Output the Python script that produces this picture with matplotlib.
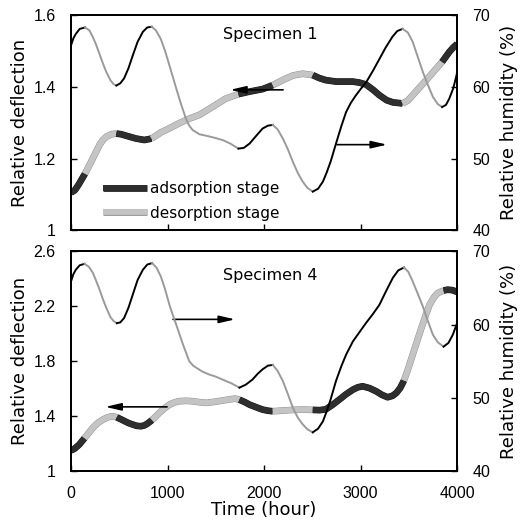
import numpy as np
import matplotlib
matplotlib.use("Agg")
import matplotlib.pyplot as plt
from matplotlib.lines import Line2D
import matplotlib.patheffects as pe

# ---------------- data ----------------
# Specimen 1 : relative humidity (%)
s1_rh_t = [0, 25, 50, 90, 145, 190, 225, 260, 295, 330, 365, 410, 440, 470, 510, 550, 595,
           640, 690, 745, 790, 835, 880, 930, 975, 1020, 1055, 1090, 1140, 1190, 1225, 1260,
           1330, 1400, 1490, 1570, 1650, 1735, 1790, 1850, 1920, 1985, 2040, 2090, 2140,
           2195, 2250, 2300, 2350, 2400, 2450, 2505, 2560, 2610, 2650, 2690, 2750, 2800,
           2850, 2900, 2950, 3000, 3060, 3130, 3195, 3260, 3330, 3380, 3435, 3490, 3540,
           3590, 3645, 3700, 3750, 3800, 3845, 3885, 3920, 3960, 3990, 4000]
s1_rh = [65.8, 66.8, 67.4, 68.1, 68.3, 67.9, 67.0, 65.9, 64.6, 63.3, 62.1, 60.9, 60.4, 60.2,
         60.5, 61.2, 62.6, 64.4, 66.3, 67.7, 68.3, 68.4, 67.9, 66.7, 65.0, 63.0, 61.4, 59.8,
         57.6, 55.6, 54.6, 54.0, 53.4, 53.2, 52.9, 52.6, 52.1, 51.4, 51.5, 52.1, 53.2, 54.2,
         54.6, 54.7, 54.1, 52.8, 51.2, 49.5, 48.0, 46.8, 45.9, 45.4, 45.8, 46.8, 48.1, 49.6,
         52.3, 54.5, 56.5, 57.8, 58.8, 59.7, 60.7, 62.3, 63.9, 65.5, 67.0, 67.8, 68.1, 67.6,
         66.3, 64.3, 62.1, 60.2, 58.6, 57.6, 57.2, 57.5, 58.4, 59.8, 61.4, 62.0]
# Specimen 1 : relative deflection
s1_df_t = [0, 40, 80, 145, 225, 295, 330, 365, 420, 470, 520, 570, 675, 760, 835, 930, 1030,
           1130, 1230, 1330, 1470, 1600, 1735, 1850, 1985, 2090, 2200, 2300, 2400, 2505,
           2570, 2640, 2745, 2830, 2920, 2990, 3055, 3130, 3195, 3270, 3335, 3435, 3490,
           3540, 3610, 3680, 3780, 3845, 3920, 3960, 4000]
s1_df = [1.105, 1.112, 1.128, 1.158, 1.200, 1.238, 1.252, 1.261, 1.268, 1.270, 1.268, 1.264,
         1.256, 1.252, 1.256, 1.273, 1.286, 1.300, 1.312, 1.322, 1.345, 1.367, 1.380, 1.387,
         1.394, 1.405, 1.420, 1.432, 1.437, 1.433, 1.425, 1.419, 1.415, 1.415, 1.415, 1.412,
         1.407, 1.392, 1.377, 1.363, 1.357, 1.354, 1.362, 1.377, 1.398, 1.419, 1.450, 1.470,
         1.498, 1.510, 1.520]
# Specimen 1 : stage changes (hours) - adsorption first
s1_breaks = [145, 470, 835, 1735, 2090, 2505, 3435, 3845]

# Specimen 4 : relative humidity (%)
s4_rh_t = [0, 25, 50, 90, 140, 185, 225, 260, 295, 330, 365, 410, 440, 475, 510, 550, 595,
           640, 690, 745, 790, 840, 885, 930, 975, 1020, 1055, 1090, 1160, 1225, 1265, 1300,
           1360, 1430, 1500, 1570, 1660, 1745, 1810, 1880, 1935, 1985, 2040, 2090, 2140,
           2195, 2250, 2300, 2350, 2400, 2450, 2505, 2560, 2610, 2650, 2690, 2745, 2800,
           2850, 2920, 2990, 3055, 3125, 3195, 3265, 3335, 3390, 3450, 3495, 3540, 3590,
           3645, 3700, 3750, 3800, 3860, 3910, 3955, 4000]
s4_rh = [65.9, 66.9, 67.5, 68.1, 68.3, 67.9, 67.1, 66.0, 64.8, 63.5, 62.3, 61.0, 60.5, 60.2,
         60.3, 60.9, 62.3, 64.1, 66.1, 67.5, 68.2, 68.4, 67.8, 66.6, 64.8, 62.7, 61.3, 60.0,
         57.3, 55.0, 54.4, 54.1, 53.6, 53.2, 52.9, 52.5, 52.0, 51.4, 51.8, 52.5, 53.3, 53.9,
         54.4, 54.5, 53.7, 52.3, 50.4, 48.6, 47.3, 46.4, 45.7, 45.3, 45.8, 46.8, 48.2, 49.8,
         52.3, 54.3, 55.9, 57.7, 59.0, 60.2, 61.4, 62.7, 64.6, 66.4, 67.4, 67.8, 67.2, 65.9,
         64.3, 62.5, 60.4, 58.6, 57.6, 57.0, 57.5, 58.6, 60.2]
# Specimen 4 : relative deflection
s4_df_t = [0, 40, 86, 140, 180, 225, 280, 330, 380, 430, 475, 536, 590, 640, 680, 725, 760,
           790, 840, 915, 970, 1020, 1070, 1120, 1190, 1260, 1330, 1400, 1490, 1570, 1640,
           1700, 1745, 1800, 1850, 1920, 1985, 2040, 2090, 2195, 2300, 2400, 2505, 2575,
           2640, 2710, 2780, 2850, 2920, 2970, 3020, 3090, 3160, 3220, 3280, 3330, 3370,
           3410, 3450, 3495, 3540, 3585, 3630, 3675, 3715, 3760, 3800, 3860, 3900, 3950, 4000]
s4_df = [1.150, 1.165, 1.194, 1.240, 1.275, 1.315, 1.352, 1.375, 1.392, 1.400, 1.392, 1.371,
         1.352, 1.339, 1.330, 1.327, 1.333, 1.345, 1.372, 1.424, 1.458, 1.484, 1.500, 1.509,
         1.512, 1.509, 1.502, 1.497, 1.505, 1.514, 1.522, 1.528, 1.520, 1.503, 1.484, 1.465,
         1.448, 1.440, 1.436, 1.441, 1.446, 1.448, 1.446, 1.444, 1.450, 1.483, 1.521, 1.560,
         1.593, 1.610, 1.618, 1.605, 1.582, 1.556, 1.538, 1.548, 1.569, 1.605, 1.660, 1.750,
         1.848, 1.945, 2.042, 2.135, 2.212, 2.265, 2.297, 2.315, 2.321, 2.318, 2.305]
s4_breaks = [140, 475, 840, 1745, 2090, 2505, 3450, 3860]

x_ticks = [0, 1000, 2000, 3000, 4000]
top_yticks = [1, 1.2, 1.4, 1.6]
top_yticklabels = ["1", "1.2", "1.4", "1.6"]
bot_yticks = [1, 1.4, 1.8, 2.2, 2.6]
bot_yticklabels = ["1", "1.4", "1.8", "2.2", "2.6"]
rh_ticks = [40, 50, 60, 70]
legend_labels = ["adsorption stage", "desorption stage"]

# ---------------- styles ----------------
TICKFONT = "Liberation Sans"
LABFONT = "DejaVu Sans"
DARK_DF = dict(color="#2e2e2e", lw=4.2, solid_capstyle="butt", solid_joinstyle="round",
               path_effects=[pe.Stroke(linewidth=4.8, foreground="#111111"), pe.Normal()])
LIGHT_DF = dict(color="#c4c4c4", lw=4.2, solid_capstyle="butt", solid_joinstyle="round",
                path_effects=[pe.Stroke(linewidth=4.8, foreground="#8a8a8a"), pe.Normal()])
DARK_RH = dict(color="black", lw=1.4, zorder=4, solid_joinstyle="round")
LIGHT_RH = dict(color="#9a9a9a", lw=1.4, zorder=4, solid_joinstyle="round")


def plot_staged(ax, t, v, breaks, dark_kw, light_kw):
    t = np.asarray(t, float)
    v = np.asarray(v, float)
    edges = [t[0]] + list(breaks) + [t[-1]]
    for i in range(len(edges) - 1):
        m = (t >= edges[i]) & (t <= edges[i + 1])
        kw = dark_kw if i % 2 == 0 else light_kw
        ax.plot(t[m], v[m], **kw)


def style_axes(ax, axr, ylim, yticks, yticklabels, show_x):
    ax.set_xlim(0, 4000)
    ax.set_ylim(*ylim)
    ax.set_yticks(yticks)
    ax.set_yticklabels(yticklabels, fontfamily=TICKFONT, fontsize=11.5)
    ax.set_xticks(x_ticks)
    axr.set_ylim(40, 70)
    axr.set_yticks(rh_ticks)
    axr.set_yticklabels([str(v) for v in rh_ticks], fontfamily=TICKFONT, fontsize=11.5)
    for a in (ax, axr):
        a.tick_params(direction="in", length=4, width=1, pad=11)
        for s in a.spines.values():
            s.set_linewidth(1.3)
    if show_x:
        ax.set_xticklabels([str(v) for v in x_ticks], fontfamily=TICKFONT, fontsize=11.5)
    else:
        ax.set_xticklabels([])
    ax.set_ylabel("Relative deflection", fontfamily=LABFONT, fontsize=13)
    ax.yaxis.set_label_coords(-0.108, 0.5)
    axr.set_ylabel("Relative humidity (%)", fontfamily=LABFONT, fontsize=13)
    axr.yaxis.set_label_coords(1.11, 0.5)


fig = plt.figure(figsize=(5.26, 5.27), dpi=100)
ax1 = fig.add_axes([0.135, 0.563, 0.734, 0.408])
ax2 = fig.add_axes([0.135, 0.106, 0.734, 0.417])
ax1r = ax1.twinx()
ax2r = ax2.twinx()

arrow = dict(arrowstyle="-|>,head_length=0.95,head_width=0.22", color="black", lw=1.2,
             shrinkA=0, shrinkB=0)

# ---- top panel: Specimen 1
plot_staged(ax1, s1_df_t, s1_df, s1_breaks, DARK_DF, LIGHT_DF)
plot_staged(ax1r, s1_rh_t, s1_rh, s1_breaks, DARK_RH, LIGHT_RH)
style_axes(ax1, ax1r, (1.0, 1.6), top_yticks, top_yticklabels, False)
ax1r.text(0.515, 0.912, "Specimen 1", transform=ax1.transAxes, ha="center", va="center",
          fontfamily=LABFONT, fontsize=11.5)
ax1.annotate("", xy=(1648, 1.392), xytext=(2197, 1.392), arrowprops=arrow)
ax1.annotate("", xy=(3275, 1.239), xytext=(2756, 1.239), arrowprops=arrow)

handles = [Line2D([], [], **DARK_DF), Line2D([], [], **LIGHT_DF)]
ax1r.legend(handles, legend_labels, loc="lower left", bbox_to_anchor=(0.083, 0.045),
            bbox_transform=ax1.transAxes, frameon=False, handlelength=2.9,
            handletextpad=0.2, labelspacing=0.6, borderpad=0, borderaxespad=0,
            prop={"family": LABFONT, "size": 11})

# ---- bottom panel: Specimen 4
plot_staged(ax2, s4_df_t, s4_df, s4_breaks, DARK_DF, LIGHT_DF)
plot_staged(ax2r, s4_rh_t, s4_rh, s4_breaks, DARK_RH, LIGHT_RH)
style_axes(ax2, ax2r, (1.0, 2.6), bot_yticks, bot_yticklabels, True)
ax2r.text(0.515, 0.892, "Specimen 4", transform=ax2.transAxes, ha="center", va="center",
          fontfamily=LABFONT, fontsize=11.5)
ax2.annotate("", xy=(1700, 2.105), xytext=(1057, 2.105), arrowprops=arrow)
ax2.annotate("", xy=(355, 1.468), xytext=(995, 1.468), arrowprops=arrow)
ax2.set_xlabel("Time (hour)", fontfamily=LABFONT, fontsize=13)
ax2.xaxis.set_label_coords(0.5, -0.135)

fig.savefig("out.png", dpi=100)
